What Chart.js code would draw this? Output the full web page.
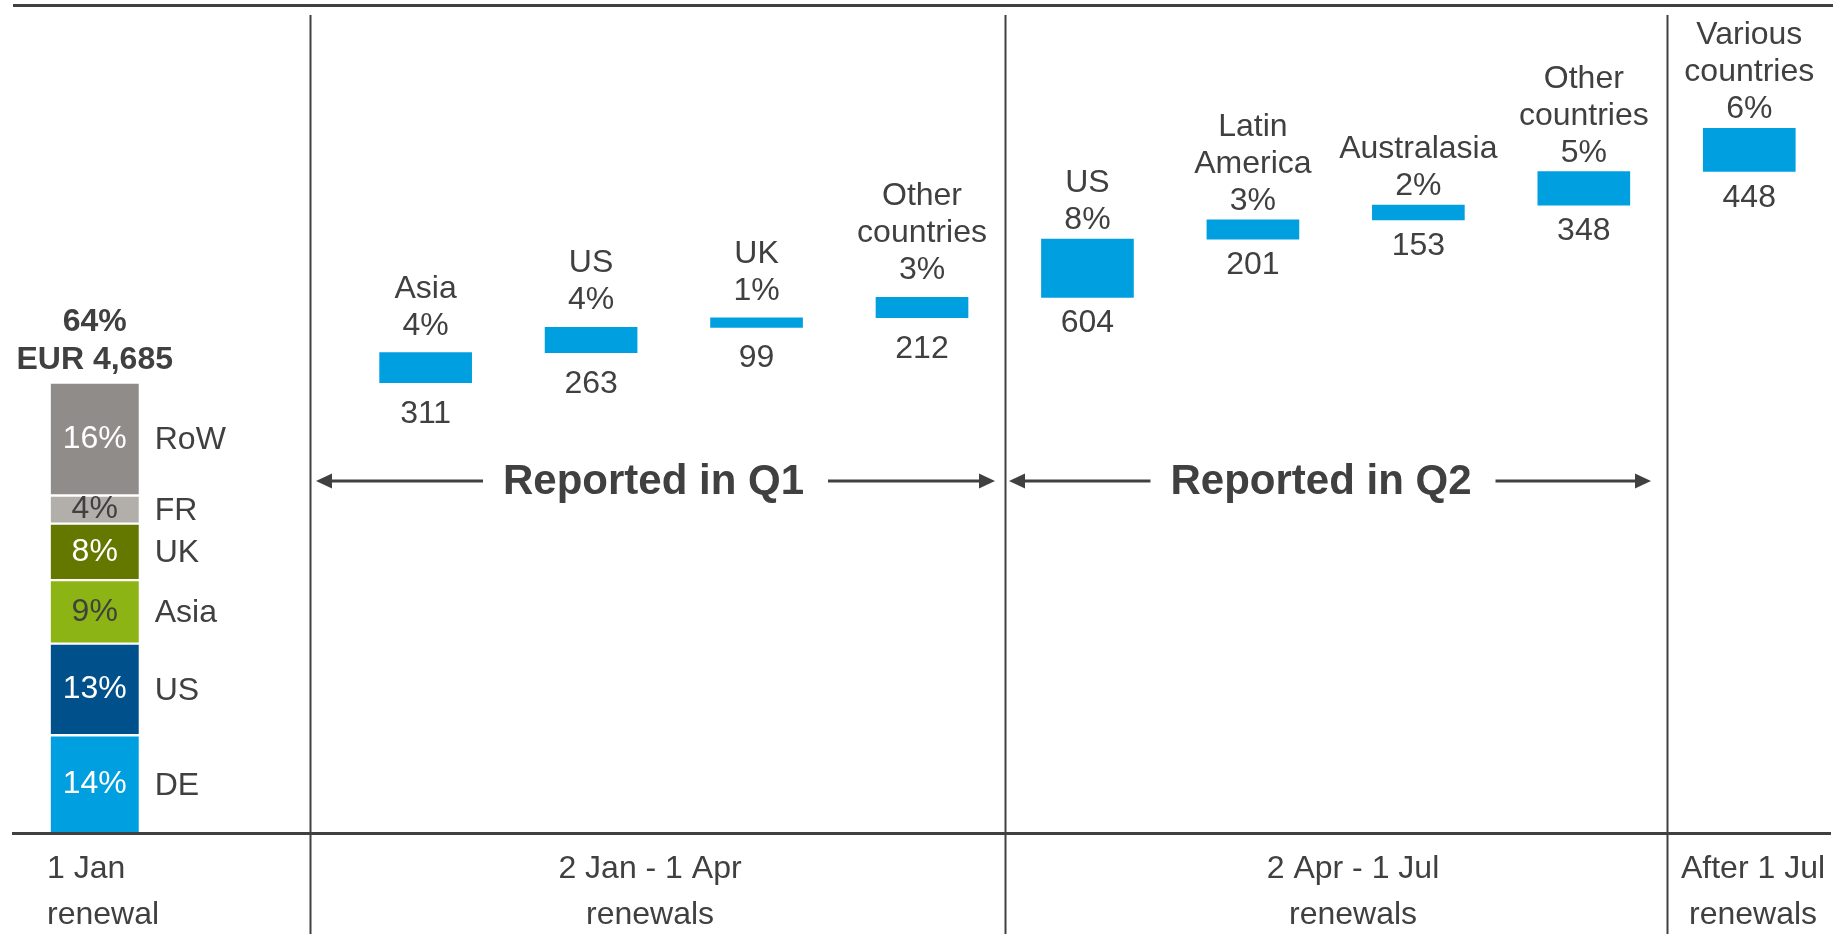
<!DOCTYPE html>
<html>
<head>
<meta charset="utf-8">
<script src="https://cdn.jsdelivr.net/npm/chart.js@4.4.1/dist/chart.umd.min.js"></script>
<style>
  html, body { margin: 0; padding: 0; background: #fff; }
  canvas { display: block; }
</style>
</head>
<body>
<canvas id="renewals" width="1833" height="934"></canvas>
<script>
// x categories (slot 1 stays empty, like on the slide)
const categories = [["1 Jan"], [], ["Asia"], ["US"], ["UK"], ["Other", "countries"], ["US"], ["Latin", "America"], ["Australasia"], ["Other", "countries"], ["Various", "countries"]];

// 1 Jan renewal split, % of total
const baseSegments = ["DE", "US", "Asia", "UK", "FR", "RoW"];
const baseShares = [14, 13, 9, 8, 4, 16];
const baseTotal = 4685;     // EUR m
const baseShareTotal = 64;  // %

// later renewals: EUR m and %
const increments = [311, 263, 99, 212, 604, 201, 153, 348, 448];
const incrementShares = [4, 4, 1, 3, 8, 3, 2, 5, 6];

// bottom period labels and Q banners
const periods = [["1 Jan", "renewal"], ["2 Jan - 1 Apr", "renewals"], ["2 Apr - 1 Jul", "renewals"], ["After 1 Jul", "renewals"]];
const reported = ["Reported in Q1", "Reported in Q2"];

const TEXT = "#404040";
const BLUE = "#009FE0";
const segColors = ["#009FE0", "#00508C", "#8CB414", "#647800", "#B2AEAA", "#8F8C8A"];
const segText = ["#fff", "#fff", TEXT, "#fff", TEXT, "#fff"];
const FONT = '"Liberation Sans", Arial, sans-serif';
const Y_MAX = 8615;

// base stack as floating pieces on the share axis
const datasets = [];
let cum = 0;
baseShares.forEach((s, i) => {
  const data = categories.map(() => null);
  data[0] = [cum, cum + s];
  cum += s;
  datasets.push({
    label: baseSegments[i],
    data: data,
    yAxisID: "share",
    backgroundColor: segColors[i],
    borderColor: "#fff",
    borderWidth: { top: 1.5, bottom: 1.5, left: 0, right: 0 },
    borderSkipped: false,
    barThickness: 88,
    grouped: false
  });
});

// waterfall
let run = baseTotal;
const wf = [null, null];
increments.forEach(v => { wf.push([run, run + v]); run += v; });
datasets.push({
  label: "renewals",
  data: wf,
  yAxisID: "y",
  backgroundColor: BLUE,
  borderWidth: 0,
  barThickness: 92,
  grouped: false
});
const WF = datasets.length - 1;

function arrow(ctx, x1, x2, y) {
  // tip at x2
  const d = Math.sign(x2 - x1);
  ctx.beginPath();
  ctx.moveTo(x1, y);
  ctx.lineTo(x2 - d * 12, y);
  ctx.stroke();
  ctx.beginPath();
  ctx.moveTo(x2, y);
  ctx.lineTo(x2 - d * 16, y - 7.5);
  ctx.lineTo(x2 - d * 16, y + 7.5);
  ctx.closePath();
  ctx.fill();
}

const overlay = {
  id: "overlay",
  afterDatasetsDraw(chart) {
    const { ctx, scales: { x, share } } = chart;
    const px = v => x.getPixelForValue(v);
    ctx.save();
    ctx.strokeStyle = TEXT;
    ctx.fillStyle = TEXT;

    // frame lines
    ctx.lineWidth = 3;
    ctx.beginPath(); ctx.moveTo(13, 5.5); ctx.lineTo(1833, 5.5); ctx.stroke();
    ctx.beginPath(); ctx.moveTo(12, 833.5); ctx.lineTo(1831, 833.5); ctx.stroke();
    ctx.lineWidth = 2;
    [1.3, 5.5, 9.5].forEach(v => {
      const xx = Math.round(px(v)) + 0.5;
      ctx.beginPath(); ctx.moveTo(xx, 15); ctx.lineTo(xx, 934); ctx.stroke();
    });

    // Q banners
    ctx.font = "bold 42px " + FONT;
    ctx.textAlign = "center";
    ctx.textBaseline = "alphabetic";
    ctx.lineWidth = 3;
    [[316, 995, 653.5], [1009, 1651, 1321]].forEach((a, i) => {
      const w = ctx.measureText(reported[i]).width;
      ctx.fillText(reported[i], a[2], 494);
      arrow(ctx, a[2] - w / 2 - 20, a[0], 481);
      arrow(ctx, a[2] + w / 2 + 24, a[1], 481);
    });

    // waterfall labels (Q1 labels sit a bit further from the bars)
    ctx.font = "32px " + FONT;
    const meta = chart.getDatasetMeta(WF);
    increments.forEach((v, k) => {
      const i = k + 2;
      const q1 = i <= 5;
      const bar = meta.data[i];
      const top = Math.min(bar.y, bar.base);
      const bot = Math.max(bar.y, bar.base);
      const lines = categories[i].concat([incrementShares[k] + "%"]);
      const gap = q1 ? 18 : 10;
      lines.forEach((t, j) => {
        ctx.fillText(t, bar.x, top - gap - (lines.length - 1 - j) * 37);
      });
      ctx.fillText(String(v), bar.x, bot + (q1 ? 40 : 35));
    });

    // base column
    const x0 = px(0);
    const baseTop = share.getPixelForValue(baseShareTotal);
    ctx.font = "bold 32px " + FONT;
    ctx.fillText(baseShareTotal + "%", x0, baseTop - 14 - 38);
    ctx.fillText("EUR " + baseTotal.toLocaleString("en-US"), x0, baseTop - 14);

    ctx.font = "32px " + FONT;
    ctx.textBaseline = "middle";
    let c = 0;
    baseShares.forEach((s, i) => {
      const mid = (share.getPixelForValue(c) + share.getPixelForValue(c + s)) / 2;
      c += s;
      ctx.fillStyle = segText[i];
      ctx.textAlign = "center";
      ctx.fillText(s + "%", x0, mid);
      ctx.fillStyle = TEXT;
      ctx.textAlign = "left";
      ctx.fillText(baseSegments[i], x0 + 60, mid + 1.5);
    });

    // period labels
    ctx.textBaseline = "alphabetic";
    [[47, "left"], [650, "center"], [1353, "center"], [1753, "center"]].forEach((p, i) => {
      ctx.textAlign = p[1];
      periods[i].forEach((t, j) => ctx.fillText(t, p[0], 878 + j * 46));
    });
    ctx.restore();
  }
};

new Chart(document.getElementById("renewals").getContext("2d"), {
  type: "bar",
  data: { labels: categories, datasets: datasets },
  options: {
    responsive: false,
    animation: false,
    devicePixelRatio: 1,
    layout: { padding: { left: 12, right: 1, top: 4, bottom: 100 } },
    plugins: { legend: { display: false }, tooltip: { enabled: false } },
    scales: {
      x: { display: false },
      y: { display: false, min: 0, max: Y_MAX },
      share: { display: false, min: 0, max: Y_MAX * baseShareTotal / baseTotal }
    }
  },
  plugins: [overlay]
});
</script>
</body>
</html>
